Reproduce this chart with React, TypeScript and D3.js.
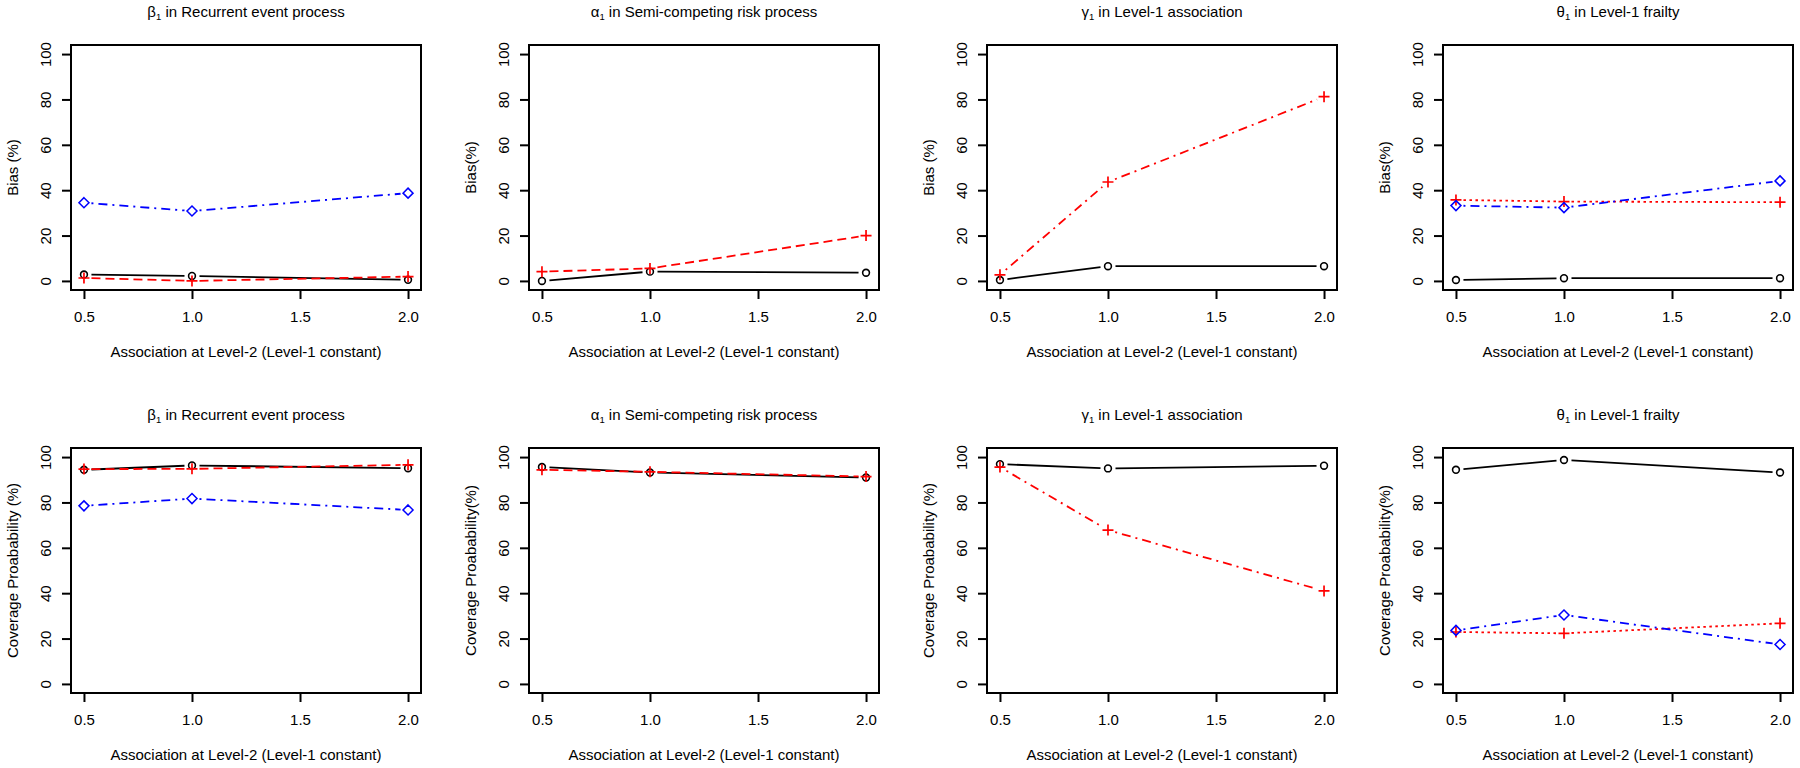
import React, { useEffect, useRef } from "react";
import * as d3 from "d3";

// ---------- data ----------
const assoc = [0.5, 1.0, 2.0];
const xTicks = [0.5, 1.0, 1.5, 2.0];
const yTicks = [0, 20, 40, 60, 80, 100];

const paramSymbols = ["β", "α", "γ", "θ"];
const paramTitles = [
  " in Recurrent event process",
  " in Semi-competing risk process",
  " in Level-1 association",
  " in Level-1 frailty",
];
const biasLabels = ["Bias (%)", "Bias(%)", "Bias (%)", "Bias(%)"];
const cpLabels = [
  "Coverage Proabability (%)",
  "Coverage Proabability(%)",
  "Coverage Proabability (%)",
  "Coverage Proabability(%)",
];
const xLabel = "Association at Level-2 (Level-1 constant)";

// Bias (%)
const biasBetaBlack = [2.8, 2.2, 0.5];
const biasBetaRed = [1.3, 0.0, 1.9];
const biasBetaBlue = [34.5, 30.8, 38.7];
const biasAlphaBlack = [0.0, 4.1, 3.6];
const biasAlphaRed = [4.1, 5.5, 20.0];
const biasGammaBlack = [0.4, 6.5, 6.5];
const biasGammaRed = [2.7, 43.6, 81.2];
const biasThetaBlack = [0.4, 1.2, 1.2];
const biasThetaRed = [35.7, 35.0, 34.7];
const biasThetaBlue = [33.2, 32.3, 44.1];

// Coverage probability (%)
const cpBetaBlack = [94.4, 96.3, 95.1];
const cpBetaRed = [94.7, 94.8, 96.6];
const cpBetaBlue = [78.5, 81.7, 76.7];
const cpAlphaBlack = [95.6, 93.2, 91.0];
const cpAlphaRed = [94.4, 93.5, 91.4];
const cpGammaBlack = [96.9, 95.0, 96.2];
const cpGammaRed = [95.6, 67.8, 41.0];
const cpThetaBlack = [94.4, 98.7, 93.2];
const cpThetaRed = [22.9, 22.3, 26.7];
const cpThetaBlue = [23.6, 30.4, 17.4];

const redLineTypes = ["dashed", "dashed", "dotdash", "dotted"];

// ---------- layout ----------
const W = 1800;
const H = 768;
const boxLefts = [71, 529, 987, 1443];
const boxWidth = 350;
const boxTops = [45, 448];
const boxHeight = 245;
const FONT = "'Liberation Sans', Arial, sans-serif";
const FS = 15;

const dashes: Record<string, string | null> = {
  solid: null,
  dashed: "9,5",
  dotted: "2.5,3.5",
  dotdash: "2,5,9,5",
};

type Series = { values: number[]; color: string; lty: string; pch: string };

function buildPanels() {
  const biasSets: Series[][] = [
    [
      { values: biasBetaBlack, color: "#000", lty: "solid", pch: "circle" },
      { values: biasBetaRed, color: "#ff0000", lty: redLineTypes[0], pch: "plus" },
      { values: biasBetaBlue, color: "#0000ff", lty: "dotdash", pch: "diamond" },
    ],
    [
      { values: biasAlphaBlack, color: "#000", lty: "solid", pch: "circle" },
      { values: biasAlphaRed, color: "#ff0000", lty: redLineTypes[1], pch: "plus" },
    ],
    [
      { values: biasGammaBlack, color: "#000", lty: "solid", pch: "circle" },
      { values: biasGammaRed, color: "#ff0000", lty: redLineTypes[2], pch: "plus" },
    ],
    [
      { values: biasThetaBlack, color: "#000", lty: "solid", pch: "circle" },
      { values: biasThetaRed, color: "#ff0000", lty: redLineTypes[3], pch: "plus" },
      { values: biasThetaBlue, color: "#0000ff", lty: "dotdash", pch: "diamond" },
    ],
  ];
  const cpSets: Series[][] = [
    [
      { values: cpBetaBlack, color: "#000", lty: "solid", pch: "circle" },
      { values: cpBetaRed, color: "#ff0000", lty: redLineTypes[0], pch: "plus" },
      { values: cpBetaBlue, color: "#0000ff", lty: "dotdash", pch: "diamond" },
    ],
    [
      { values: cpAlphaBlack, color: "#000", lty: "solid", pch: "circle" },
      { values: cpAlphaRed, color: "#ff0000", lty: redLineTypes[1], pch: "plus" },
    ],
    [
      { values: cpGammaBlack, color: "#000", lty: "solid", pch: "circle" },
      { values: cpGammaRed, color: "#ff0000", lty: redLineTypes[2], pch: "plus" },
    ],
    [
      { values: cpThetaBlack, color: "#000", lty: "solid", pch: "circle" },
      { values: cpThetaRed, color: "#ff0000", lty: redLineTypes[3], pch: "plus" },
      { values: cpThetaBlue, color: "#0000ff", lty: "dotdash", pch: "diamond" },
    ],
  ];
  const panels: any[] = [];
  for (let c = 0; c < 4; c++) {
    panels.push({ row: 0, col: c, ylab: biasLabels[c], series: biasSets[c] });
  }
  for (let c = 0; c < 4; c++) {
    panels.push({ row: 1, col: c, ylab: cpLabels[c], series: cpSets[c] });
  }
  return panels;
}

export default function App() {
  const ref = useRef<SVGSVGElement | null>(null);

  useEffect(() => {
    const svg = d3.select(ref.current);
    svg.selectAll("*").remove();
    svg.append("rect").attr("width", W).attr("height", H).attr("fill", "#fff");

    const panels = buildPanels();
    panels.forEach((p) => {
      const left = boxLefts[p.col];
      const top = boxTops[p.row];
      const right = left + boxWidth;
      const bottom = top + boxHeight;
      const xExt = (2.0 - 0.5) * 0.04;
      const x = d3.scaleLinear().domain([0.5 - xExt, 2.0 + xExt]).range([left, right]);
      const y = d3.scaleLinear().domain([-4, 104]).range([bottom, top]);
      const g = svg.append("g");

      // box
      g.append("rect")
        .attr("x", left)
        .attr("y", top)
        .attr("width", boxWidth)
        .attr("height", boxHeight)
        .attr("fill", "none")
        .attr("stroke", "#000")
        .attr("stroke-width", 2);

      // x axis
      const xa = g
        .append("g")
        .attr("transform", `translate(0,${bottom})`)
        .call(
          d3
            .axisBottom(x)
            .tickValues(xTicks)
            .tickSize(9)
            .tickPadding(12)
            .tickFormat(d3.format(".1f"))
        );
      xa.select(".domain").attr("d", `M${x(0.5)},0H${x(2.0)}`).attr("stroke-width", 2);
      xa.selectAll(".tick line").attr("stroke-width", 2);
      xa.selectAll("text").attr("font-size", FS).attr("font-family", FONT).attr("fill", "#000");

      // y axis
      const ya = g
        .append("g")
        .attr("transform", `translate(${left},0)`)
        .call(d3.axisLeft(y).tickValues(yTicks).tickSize(9).tickFormat(d3.format("d")));
      ya.select(".domain").attr("d", `M0,${y(0)}V${y(100)}`).attr("stroke-width", 2);
      ya.selectAll(".tick line").attr("stroke-width", 2);
      ya.selectAll("text")
        .attr("font-size", FS)
        .attr("font-family", FONT)
        .attr("fill", "#000")
        .attr("x", null)
        .attr("dy", null)
        .attr("text-anchor", "middle")
        .attr("dominant-baseline", "central")
        .attr("transform", "translate(-26,0) rotate(-90)");

      // title
      const t = g
        .append("text")
        .attr("x", (left + right) / 2)
        .attr("y", top - 28)
        .attr("text-anchor", "middle")
        .attr("font-family", FONT)
        .attr("font-size", FS)
        .attr("fill", "#000");
      t.append("tspan").text(paramSymbols[p.col]);
      t.append("tspan").attr("font-size", 9.5).attr("dy", 3).text("1");
      t.append("tspan").attr("dy", -3).text(paramTitles[p.col]);

      // x label
      g.append("text")
        .attr("x", (left + right) / 2)
        .attr("y", bottom + 67)
        .attr("text-anchor", "middle")
        .attr("font-family", FONT)
        .attr("font-size", FS)
        .attr("fill", "#000")
        .text(xLabel);

      // y label
      g.append("text")
        .attr("transform", `translate(${left - 59},${(top + bottom) / 2}) rotate(-90)`)
        .attr("text-anchor", "middle")
        .attr("dominant-baseline", "central")
        .attr("font-family", FONT)
        .attr("font-size", FS)
        .attr("fill", "#000")
        .text(p.ylab);

      // series
      const gap = 7.5;
      p.series.forEach((s: Series) => {
        const pts = s.values.map((v, i) => [x(assoc[i]), y(v)] as [number, number]);
        const lineGen = d3.line();
        for (let i = 0; i < pts.length - 1; i++) {
          const [x0, y0] = pts[i];
          const [x1, y1] = pts[i + 1];
          const len = Math.hypot(x1 - x0, y1 - y0);
          if (len <= 2 * gap) continue;
          const ux = (x1 - x0) / len;
          const uy = (y1 - y0) / len;
          const seg: [number, number][] = [
            [x0 + ux * gap, y0 + uy * gap],
            [x1 - ux * gap, y1 - uy * gap],
          ];
          const path = g
            .append("path")
            .attr("d", lineGen(seg))
            .attr("fill", "none")
            .attr("stroke", s.color)
            .attr("stroke-width", 1.8);
          const da = dashes[s.lty];
          if (da) path.attr("stroke-dasharray", da);
        }
        pts.forEach(([px, py]) => {
          if (s.pch === "circle") {
            g.append("circle")
              .attr("cx", px)
              .attr("cy", py)
              .attr("r", 3.4)
              .attr("fill", "none")
              .attr("stroke", s.color)
              .attr("stroke-width", 1.6);
          } else if (s.pch === "plus") {
            const h = 5.5;
            g.append("path")
              .attr("d", `M${px - h},${py}H${px + h}M${px},${py - h}V${py + h}`)
              .attr("stroke", s.color)
              .attr("stroke-width", 1.7)
              .attr("fill", "none");
          } else {
            const h = 5;
            g.append("path")
              .attr("d", `M${px},${py - h}L${px + h},${py}L${px},${py + h}L${px - h},${py}Z`)
              .attr("stroke", s.color)
              .attr("stroke-width", 1.5)
              .attr("fill", "none");
          }
        });
      });
    });
  }, []);

  return (
    <svg
      ref={ref}
      width={W}
      height={H}
      style={{ position: "absolute", left: 0, top: 0, display: "block" }}
    />
  );
}
